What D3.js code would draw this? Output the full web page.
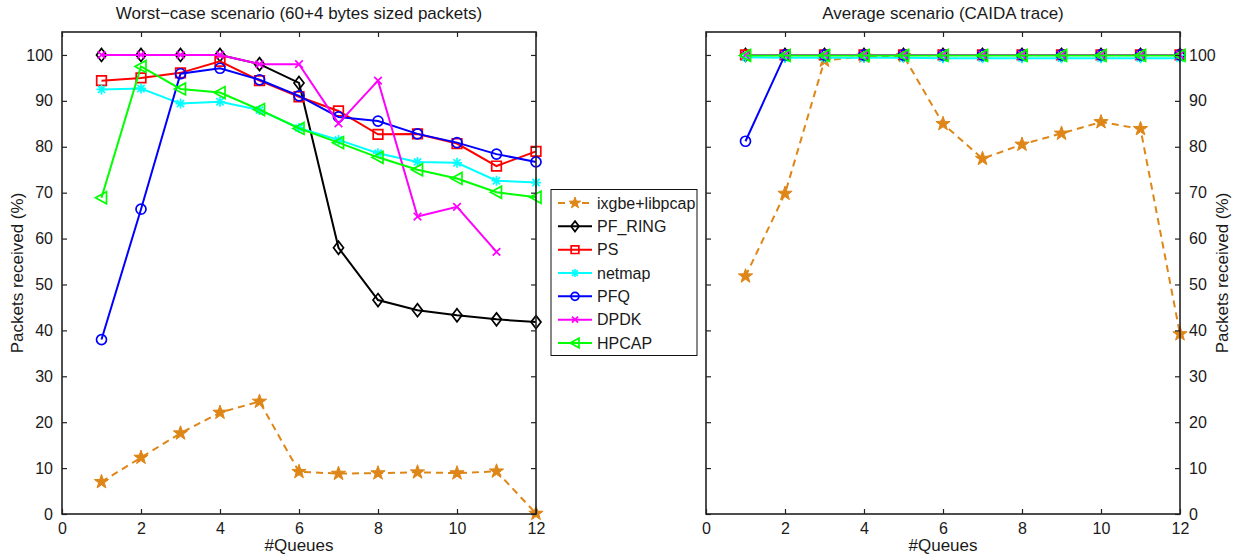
<!DOCTYPE html>
<html>
<head>
<meta charset="utf-8">
<script src="https://cdn.jsdelivr.net/npm/d3@7"></script>
<style>
body{margin:0;background:#fff;}
svg text{font-family:"Liberation Sans",Arial,sans-serif;font-size:16px;fill:#1a1a1a;}
</style>
</head>
<body>
<svg id="chart"></svg>
<script>
// data
var queues=[1,2,3,4,5,6,7,8,9,10,11,12];
var seriesNames=["ixgbe+libpcap","PF_RING","PS","netmap","PFQ","DPDK","HPCAP"];
var seriesColors=["#df8618","#000000","#ff0000","#00ffff","#0000ff","#ff00ff","#00ff00"];
var seriesMarkers=["star","diamond","square","asterisk","circle","times","triangle"];
var xTicks=[0,2,4,6,8,10,12];
var yTicks=[0,10,20,30,40,50,60,70,80,90,100];

// worst-case scenario
var worstIxgbe=[7.0,12.3,17.6,22.1,24.5,9.2,8.8,8.9,9.1,8.9,9.3,0.1];
var worstPfring=[100,100,100,100,98.0,93.9,58.0,46.6,44.4,43.3,42.4,41.8];
var worstPs=[94.4,95.0,96.1,98.6,94.4,90.9,87.8,82.7,82.8,80.7,75.8,79.0];
var worstNetmap=[92.5,92.7,89.4,89.8,88.0,84.1,81.5,78.6,76.7,76.5,72.6,72.2];
var worstPfq=[38.0,66.4,95.9,97.1,94.6,91.1,86.5,85.6,82.8,80.9,78.4,76.7];
var worstDpdk=[100,100,100,100,98.0,98.0,85.1,94.4,64.8,66.9,57.1,null];
var worstHpcap=[68.9,97.5,92.6,91.8,88.1,84.0,80.9,77.7,75.0,73.1,70.1,69.0];

// average scenario
var avgIxgbe=[51.8,69.8,98.8,99.7,99.8,85.0,77.4,80.5,82.9,85.4,83.9,39.2];
var avgPfring=[100,100,100,100,100,100,100,100,100,100,100,100];
var avgPs=[100,100,100,100,100,100,100,100,100,100,100,100];
var avgNetmap=[99.5,99.4,99.4,99.4,99.4,99.3,99.3,99.3,99.3,99.3,99.3,99.3];
var avgPfq=[81.2,100,100,100,100,100,100,100,100,100,100,100];
var avgDpdk=[100,100,100,100,100,100,100,100,100,100,100,100];
var avgHpcap=[99.9,99.9,99.9,99.9,99.9,99.9,99.9,99.9,99.9,99.9,99.9,99.9];

var worstSeries=[worstIxgbe,worstPfring,worstPs,worstNetmap,worstPfq,worstDpdk,worstHpcap];
var avgSeries=[avgIxgbe,avgPfring,avgPs,avgNetmap,avgPfq,avgDpdk,avgHpcap];

var W=1246,H=556;
var svg=d3.select("#chart").attr("width",W).attr("height",H);

// marker path, centred on 0,0
function markerPath(type,s){
    var p="";
    if(type=="star"){
        var pts=[];
        for(var i=0;i<10;i++){
            var r=(i%2==0)?7.5*s:3.0*s;
            var a=-Math.PI/2+i*Math.PI/5;
            pts.push([r*Math.cos(a),r*Math.sin(a)]);
        }
        p="M"+pts.join("L")+"Z";
    } else if(type=="diamond"){
        p="M0,"+(-6.5*s)+"L"+(5*s)+",0L0,"+(6.5*s)+"L"+(-5*s)+",0Z";
    } else if(type=="square"){
        var h=4.8*s;
        p="M"+(-h)+","+(-h)+"H"+h+"V"+h+"H"+(-h)+"Z";
    } else if(type=="circle"){
        var r=5*s;
        p="M"+r+",0A"+r+","+r+" 0 1,1 "+(-r)+",0A"+r+","+r+" 0 1,1 "+r+",0";
    } else if(type=="times"){
        var h=3.8*s;
        p="M"+(-h)+","+(-h)+"L"+h+","+h+"M"+(-h)+","+h+"L"+h+","+(-h);
    } else if(type=="asterisk"){
        var r=5*s,d=3.6*s;
        p="M0,"+(-r)+"V"+r+"M"+(-r)+",0H"+r+
          "M"+(-d)+","+(-d)+"L"+d+","+d+"M"+(-d)+","+d+"L"+d+","+(-d);
    } else if(type=="triangle"){
        p="M"+(-6*s)+",0L"+(5*s)+","+(-6*s)+"L"+(5*s)+","+(6*s)+"Z";
    }
    return p;
}

function drawMarker(g,type,color,x,y,s){
    g.append("path")
        .attr("d",markerPath(type,s))
        .attr("transform","translate("+x+","+y+")")
        .attr("fill",type=="star"?color:"none")
        .attr("stroke",color)
        .attr("stroke-width",type=="star"?1:1.7)
        .attr("stroke-linejoin","miter");
}

// one panel
function drawPanel(x0,x1,series,title,rightAxis){
    var top=32,bottom=514;
    var xScale=d3.scaleLinear().domain([0,12]).range([x0,x1]);
    var yScale=d3.scaleLinear().domain([0,105]).range([bottom,top]);

    var g=svg.append("g");

    // lines and markers
    series.forEach(function(vals,i){
        var pts=queues.map(function(q,j){return {q:q,v:vals[j]};});
        var line=d3.line()
            .defined(d=>d.v!=null)
            .x(d=>xScale(d.q))
            .y(d=>yScale(d.v));
        g.append("path")
            .attr("d",line(pts))
            .attr("fill","none")
            .attr("stroke",seriesColors[i])
            .attr("stroke-width",2)
            .attr("stroke-dasharray",i==0?"7,5":null);
        pts.forEach(function(d){
            if(d.v==null) return;
            drawMarker(g,seriesMarkers[i],seriesColors[i],xScale(d.q),yScale(d.v),1);
        });
    });

    // axes, ticks inward on all sides
    var axB=d3.axisBottom(xScale).tickValues(xTicks).tickSizeInner(-5).tickSizeOuter(0).tickPadding(9);
    var axT=d3.axisTop(xScale).tickValues(xTicks).tickSizeInner(-5).tickSizeOuter(0).tickFormat("");
    var axL=d3.axisLeft(yScale).tickValues(yTicks).tickSizeInner(-5).tickSizeOuter(0).tickPadding(9);
    var axR=d3.axisRight(yScale).tickValues(yTicks).tickSizeInner(-5).tickSizeOuter(0).tickPadding(9);
    if(rightAxis) axL.tickFormat(""); else axR.tickFormat("");

    var axes=[
        g.append("g").attr("transform","translate(0,"+bottom+")").call(axB),
        g.append("g").attr("transform","translate(0,"+top+")").call(axT),
        g.append("g").attr("transform","translate("+x0+",0)").call(axL),
        g.append("g").attr("transform","translate("+x1+",0)").call(axR)
    ];
    axes.forEach(function(a){
        a.select(".domain").remove();
        a.selectAll("line").attr("stroke","#222").attr("stroke-width",1.2);
        a.selectAll("text").attr("font-size",null).attr("font-family",null).attr("fill","#1a1a1a");
    });
    g.selectAll(".tick text").style("font-size","16px");

    // box
    g.append("rect")
        .attr("x",x0).attr("y",top)
        .attr("width",x1-x0).attr("height",bottom-top)
        .attr("fill","none").attr("stroke","#222").attr("stroke-width",1.6);

    var cx=(x0+x1)/2;
    g.append("text").attr("x",cx).attr("y",19).attr("text-anchor","middle")
        .style("font-size","17px").text(title);
    g.append("text").attr("x",cx).attr("y",551).attr("text-anchor","middle")
        .style("font-size","17px").text("#Queues");
    var lx=rightAxis?x1+48:x0-39;
    g.append("text")
        .attr("transform","translate("+lx+","+((top+bottom)/2)+") rotate(-90)")
        .attr("text-anchor","middle")
        .style("font-size","17px")
        .text("Packets received (%)");
}

drawPanel(62,536,worstSeries,"Worst\u2212case scenario (60+4 bytes sized packets)",false);
drawPanel(706,1180,avgSeries,"Average scenario (CAIDA trace)",true);

// legend
var legend=svg.append("g");
legend.append("rect")
    .attr("x",551).attr("y",189.5)
    .attr("width",146).attr("height",166)
    .attr("fill","#fff").attr("stroke","#111").attr("stroke-width",1);
var legendY=d3.scalePoint().domain(seriesNames).range([203,343]);
seriesNames.forEach(function(name,i){
    var y=legendY(name);
    legend.append("line")
        .attr("x1",558).attr("x2",592).attr("y1",y).attr("y2",y)
        .attr("stroke",seriesColors[i]).attr("stroke-width",2)
        .attr("stroke-dasharray",i==0?"7,5":null);
    drawMarker(legend,seriesMarkers[i],seriesColors[i],575,y,0.8);
    legend.append("text").attr("x",597).attr("y",y+5.5).text(name);
});
</script>
</body>
</html>
